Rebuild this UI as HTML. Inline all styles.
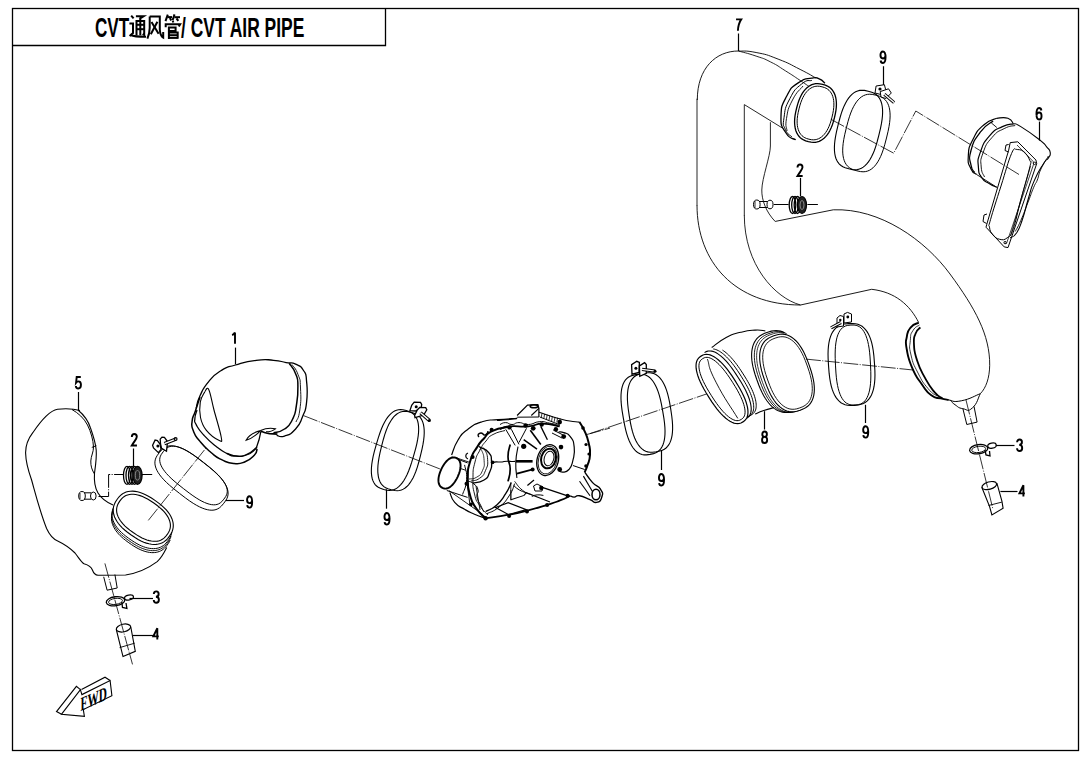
<!DOCTYPE html>
<html><head><meta charset="utf-8"><style>
html,body{margin:0;padding:0;background:#fff;}
svg{display:block;font-family:"Liberation Sans",sans-serif;}
</style></head><body>
<svg width="1090" height="760" viewBox="0 0 1090 760">
<rect width="1090" height="760" fill="#fff"/>
<rect x="12.5" y="8.5" width="1066" height="742" fill="none" stroke="#000" stroke-width="1.3"/>
<path d="M12.5,45.5 H385.5 V8.5" fill="none" stroke="#000" stroke-width="1.3"/>
<path transform="translate(74.90,376.10) scale(1,1.031)" d="M5.9,0.95 H1.8 L1.2,6.3 C1.8,5.5 2.6,5.1 3.5,5.1 C5.1,5.1 6.05,6.5 6.05,8.5 C6.05,10.8 5,12.05 3.4,12.05 C2,12.05 1,11 0.95,9.6" fill="none" stroke="#000" stroke-width="1.9" stroke-linecap="butt"/>
<line x1="78.5" y1="392" x2="78.5" y2="410.5" stroke="#000" stroke-width="1.2" />
<path transform="translate(130.80,433.00) scale(1,1.031)" d="M1,3.9 C1,1.8 2,0.95 3.5,0.95 C5,0.95 6,1.9 6,3.6 C6,5.6 4.3,7 1,12.05 H6.15" fill="none" stroke="#000" stroke-width="1.9" stroke-linecap="butt"/>
<line x1="133.5" y1="448.5" x2="133.5" y2="466.4" stroke="#000" stroke-width="1.2" />
<path transform="translate(246.10,495.20) scale(1,1.031)" d="M1.1,9.7 C1.3,11.2 2.2,12.05 3.4,12.05 C5.2,12.05 6.05,10 6.05,6.5 C6.05,2.7 5,0.95 3.4,0.95 C1.9,0.95 0.95,2.4 0.95,4.4 C0.95,6.4 1.9,7.7 3.4,7.7 C4.7,7.7 5.8,6.7 6.05,5" fill="none" stroke="#000" stroke-width="1.9" stroke-linecap="butt"/>
<line x1="225.6" y1="500.5" x2="244" y2="500.5" stroke="#000" stroke-width="1.2" />
<path transform="translate(230.80,331.40) scale(1,1.031)" d="M1.3,3.6 C2.6,3.1 3.6,2.2 4.1,0.95 M4.2,0.95 V12.05" fill="none" stroke="#000" stroke-width="1.9" stroke-linecap="butt"/>
<line x1="235.5" y1="347.6" x2="235.5" y2="364.4" stroke="#000" stroke-width="1.2" />
<path transform="translate(383.50,512.10) scale(1,1.031)" d="M1.1,9.7 C1.3,11.2 2.2,12.05 3.4,12.05 C5.2,12.05 6.05,10 6.05,6.5 C6.05,2.7 5,0.95 3.4,0.95 C1.9,0.95 0.95,2.4 0.95,4.4 C0.95,6.4 1.9,7.7 3.4,7.7 C4.7,7.7 5.8,6.7 6.05,5" fill="none" stroke="#000" stroke-width="1.9" stroke-linecap="butt"/>
<line x1="386.5" y1="489.4" x2="386.5" y2="508.7" stroke="#000" stroke-width="1.2" />
<path transform="translate(658.00,473.10) scale(1,1.031)" d="M1.1,9.7 C1.3,11.2 2.2,12.05 3.4,12.05 C5.2,12.05 6.05,10 6.05,6.5 C6.05,2.7 5,0.95 3.4,0.95 C1.9,0.95 0.95,2.4 0.95,4.4 C0.95,6.4 1.9,7.7 3.4,7.7 C4.7,7.7 5.8,6.7 6.05,5" fill="none" stroke="#000" stroke-width="1.9" stroke-linecap="butt"/>
<line x1="661.5" y1="450.4" x2="661.5" y2="470" stroke="#000" stroke-width="1.2" />
<path transform="translate(761.10,430.60) scale(1,1.031)" d="M3.5,6.1 C2,6.1 1.2,5 1.2,3.5 C1.2,1.9 2.2,0.95 3.5,0.95 C4.8,0.95 5.8,1.9 5.8,3.5 C5.8,5 5,6.1 3.5,6.1 C1.9,6.1 0.95,7.3 0.95,9 C0.95,10.9 2,12.05 3.5,12.05 C5,12.05 6.05,10.9 6.05,9 C6.05,7.3 5.1,6.1 3.5,6.1Z" fill="none" stroke="#000" stroke-width="1.9" stroke-linecap="butt"/>
<line x1="764.5" y1="411.2" x2="764.5" y2="429.5" stroke="#000" stroke-width="1.2" />
<path transform="translate(862.20,425.20) scale(1,1.031)" d="M1.1,9.7 C1.3,11.2 2.2,12.05 3.4,12.05 C5.2,12.05 6.05,10 6.05,6.5 C6.05,2.7 5,0.95 3.4,0.95 C1.9,0.95 0.95,2.4 0.95,4.4 C0.95,6.4 1.9,7.7 3.4,7.7 C4.7,7.7 5.8,6.7 6.05,5" fill="none" stroke="#000" stroke-width="1.9" stroke-linecap="butt"/>
<line x1="865.5" y1="404.8" x2="865.5" y2="423" stroke="#000" stroke-width="1.2" />
<path transform="translate(735.10,18.40) scale(1,1.031)" d="M0.95,0.95 H6.1 C4,4 3,7.5 2.8,12.05" fill="none" stroke="#000" stroke-width="1.9" stroke-linecap="butt"/>
<line x1="738.5" y1="33.5" x2="738.5" y2="51" stroke="#000" stroke-width="1.2" />
<path transform="translate(879.50,50.50) scale(1,1.031)" d="M1.1,9.7 C1.3,11.2 2.2,12.05 3.4,12.05 C5.2,12.05 6.05,10 6.05,6.5 C6.05,2.7 5,0.95 3.4,0.95 C1.9,0.95 0.95,2.4 0.95,4.4 C0.95,6.4 1.9,7.7 3.4,7.7 C4.7,7.7 5.8,6.7 6.05,5" fill="none" stroke="#000" stroke-width="1.9" stroke-linecap="butt"/>
<line x1="883.5" y1="66.25" x2="883.5" y2="85" stroke="#000" stroke-width="1.2" />
<path transform="translate(1035.50,107.10) scale(1,1.031)" d="M5.9,3.3 C5.7,1.8 4.8,0.95 3.6,0.95 C1.8,0.95 0.95,3 0.95,6.5 C0.95,10.3 2,12.05 3.6,12.05 C5.1,12.05 6.05,10.6 6.05,8.6 C6.05,6.6 5.1,5.3 3.6,5.3 C2.3,5.3 1.2,6.3 0.95,8" fill="none" stroke="#000" stroke-width="1.9" stroke-linecap="butt"/>
<line x1="1039.5" y1="121.6" x2="1039.5" y2="140.6" stroke="#000" stroke-width="1.2" />
<path transform="translate(796.50,163.50) scale(1,1.031)" d="M1,3.9 C1,1.8 2,0.95 3.5,0.95 C5,0.95 6,1.9 6,3.6 C6,5.6 4.3,7 1,12.05 H6.15" fill="none" stroke="#000" stroke-width="1.9" stroke-linecap="butt"/>
<line x1="800.5" y1="177.9" x2="800.5" y2="196.3" stroke="#000" stroke-width="1.2" />
<path transform="translate(1016.10,438.60) scale(1,1.031)" d="M1,3.6 C1,1.8 2.1,0.95 3.5,0.95 C4.9,0.95 5.85,1.9 5.85,3.4 C5.85,5 4.8,6.1 3.1,6.1 M3.1,6.1 C5,6.1 6.1,7.3 6.1,9.1 C6.1,11 5,12.05 3.5,12.05 C2,12.05 0.95,11 0.95,9.3" fill="none" stroke="#000" stroke-width="1.9" stroke-linecap="butt"/>
<line x1="995.8" y1="445.5" x2="1014.5" y2="445.5" stroke="#000" stroke-width="1.2" />
<path transform="translate(1018.50,484.20) scale(1,1.031)" d="M4.9,12.05 V0.95 L0.95,8.9 H6.4" fill="none" stroke="#000" stroke-width="1.9" stroke-linecap="butt"/>
<line x1="1000.4" y1="491.5" x2="1017.5" y2="491.5" stroke="#000" stroke-width="1.2" />
<path transform="translate(152.80,590.40) scale(1,1.031)" d="M1,3.6 C1,1.8 2.1,0.95 3.5,0.95 C4.9,0.95 5.85,1.9 5.85,3.4 C5.85,5 4.8,6.1 3.1,6.1 M3.1,6.1 C5,6.1 6.1,7.3 6.1,9.1 C6.1,11 5,12.05 3.5,12.05 C2,12.05 0.95,11 0.95,9.3" fill="none" stroke="#000" stroke-width="1.9" stroke-linecap="butt"/>
<line x1="129.5" y1="598.5" x2="153" y2="598.5" stroke="#000" stroke-width="1.2" />
<path transform="translate(152.40,627.20) scale(1,1.031)" d="M4.9,12.05 V0.95 L0.95,8.9 H6.4" fill="none" stroke="#000" stroke-width="1.9" stroke-linecap="butt"/>
<line x1="132.8" y1="635.5" x2="153" y2="635.5" stroke="#000" stroke-width="1.2" />
<text transform="translate(95,36.7) scale(0.6,1)" font-size="28.5" font-weight="bold">CVT</text>
<text transform="translate(181,36.7) scale(0.612,1)" font-size="28.5" font-weight="bold">/ CVT AIR PIPE</text>
<path d="M131.2,15.6 L133.6,18.4" fill="none" stroke="#000" stroke-width="2" stroke-linecap="butt" stroke-linejoin="miter"/>
<path d="M129.4,23.5 H133 V33 L129.6,36" fill="none" stroke="#000" stroke-width="2" stroke-linecap="butt" stroke-linejoin="miter"/>
<path d="M130.5,35 C133,36.2 136,36.8 146,36.8" fill="none" stroke="#000" stroke-width="2" stroke-linecap="butt" stroke-linejoin="miter"/>
<path d="M135.9,16.3 H143.6 L139.4,18.9" fill="none" stroke="#000" stroke-width="2" stroke-linecap="butt" stroke-linejoin="miter"/>
<path d="M136.5,35.5 V21 H144.2 V35 L142.6,34" fill="none" stroke="#000" stroke-width="2" stroke-linecap="butt" stroke-linejoin="miter"/>
<path d="M136.5,24.8 H144.2" fill="none" stroke="#000" stroke-width="2" stroke-linecap="butt" stroke-linejoin="miter"/>
<path d="M136.5,29.2 H144.2" fill="none" stroke="#000" stroke-width="2" stroke-linecap="butt" stroke-linejoin="miter"/>
<path d="M140.3,19 V35.3" fill="none" stroke="#000" stroke-width="2" stroke-linecap="butt" stroke-linejoin="miter"/>
<path d="M149.7,16.4 V28 C149.6,32 148.8,35.5 147.4,38.6" fill="none" stroke="#000" stroke-width="2" stroke-linecap="butt" stroke-linejoin="miter"/>
<path d="M149.7,16.4 H159.8 V29.5 C160,33.5 161.2,36.5 163.2,37.6 V32" fill="none" stroke="#000" stroke-width="2" stroke-linecap="butt" stroke-linejoin="miter"/>
<path d="M151.5,22 L158.6,33.8" fill="none" stroke="#000" stroke-width="2" stroke-linecap="butt" stroke-linejoin="miter"/>
<path d="M157.4,21.8 L150.8,34.2" fill="none" stroke="#000" stroke-width="2" stroke-linecap="butt" stroke-linejoin="miter"/>
<path d="M167.8,14.6 L165.5,21.2" fill="none" stroke="#000" stroke-width="2" stroke-linecap="butt" stroke-linejoin="miter"/>
<path d="M167.6,17.1 H172" fill="none" stroke="#000" stroke-width="2" stroke-linecap="butt" stroke-linejoin="miter"/>
<path d="M169.9,18 L171.2,20.5" fill="none" stroke="#000" stroke-width="2" stroke-linecap="butt" stroke-linejoin="miter"/>
<path d="M174.5,14.4 L172.6,20.3" fill="none" stroke="#000" stroke-width="2" stroke-linecap="butt" stroke-linejoin="miter"/>
<path d="M174.4,17.2 H180" fill="none" stroke="#000" stroke-width="2" stroke-linecap="butt" stroke-linejoin="miter"/>
<path d="M176.5,18.4 L178.3,20.9" fill="none" stroke="#000" stroke-width="2" stroke-linecap="butt" stroke-linejoin="miter"/>
<path d="M172.8,20.8 L173.3,22.5" fill="none" stroke="#000" stroke-width="2" stroke-linecap="butt" stroke-linejoin="miter"/>
<path d="M165.7,27.2 V24.2 H180.2 L178.8,26.6" fill="none" stroke="#000" stroke-width="2" stroke-linecap="butt" stroke-linejoin="miter"/>
<path d="M168.9,39 V27.4 H175.6 V30.9 H168.9" fill="none" stroke="#000" stroke-width="2" stroke-linecap="butt" stroke-linejoin="miter"/>
<path d="M168.9,32.5 H177.7 V38.8" fill="none" stroke="#000" stroke-width="2" stroke-linecap="butt" stroke-linejoin="miter"/>
<path d="M168.9,35.2 H177.7" fill="none" stroke="#000" stroke-width="2" stroke-linecap="butt" stroke-linejoin="miter"/>
<path d="M168.9,37.9 H177.7" fill="none" stroke="#000" stroke-width="2" stroke-linecap="butt" stroke-linejoin="miter"/>
<path d="M80,410.5 C74,408.8 64,408.6 57.5,409.2 C50,410.5 40,422 32.8,432.7 C28,439 25.5,446 25.6,453 C25.8,462 28,470 31.6,480 C35,492 40,512 46.6,528.5 C50,536 53,539 57.7,541 C64,544 70,548 75,553 C79,558 81,562 84,563.8 C88,565 91,566 92.4,570 C93.5,573 95,575 98,575.3 L125.6,575 C138,573 150,567 157.2,561.6 C161,558 164,553 166.7,547.4" fill="none" stroke="#000" stroke-width="1.1" />
<path d="M78,410 C84,415 88,420 90.5,428 C93,435 95.5,442 96.2,450 C96.8,458 95.5,466 94.5,473 C94,480 95,488 98,493 C101,498 106,502 113,505" fill="none" stroke="#000" stroke-width="1.1" />
<path d="M72,409.5 C78,413 84,418 87.5,425 C91,432 93.2,440 93.5,447 C93.6,452 91,456 90.8,461 C90.6,466 92,470 94.5,474" fill="none" stroke="#000" stroke-width="1.0" />
<line x1="91.8" y1="447.4" x2="96.3" y2="445.7" stroke="#000" stroke-width="1.0" />
<path d="M171.82,532.39 L171.43,534.06 L170.85,535.73 L170.05,537.43 L168.96,539.26 L167.34,541.56 L166.00,543.18 L164.68,544.49 L163.30,545.60 L161.86,546.52 L160.35,547.27 L158.76,547.86 L157.10,548.28 L155.36,548.54 L153.56,548.65 L151.69,548.59 L149.77,548.38 L147.78,548.01 L145.74,547.48 L143.64,546.78 L141.49,545.93 L139.27,544.90 L136.97,543.69 L134.56,542.26 L131.89,540.54 L128.37,538.08 L125.77,536.14 L123.58,534.35 L121.63,532.60 L119.88,530.87 L118.32,529.14 L116.93,527.40 L115.71,525.66 L114.67,523.93 L113.79,522.19 L113.08,520.45 L112.54,518.72 L112.17,517.00 L111.98,515.29 L111.97,513.60 L112.13,511.92 L112.48,510.25 L113.03,508.58 L113.79,506.89 L114.81,505.10 L116.39,502.80 L117.75,501.10 L119.07,499.73 L120.44,498.59" fill="none" stroke="#000" stroke-width="1.0"/>
<path d="M171.07,536.25 L170.50,537.85 L169.72,539.47 L168.69,541.21 L167.14,543.43 L165.85,545.01 L164.59,546.30 L163.29,547.38 L161.94,548.30 L160.51,549.06 L159.02,549.67 L157.46,550.13 L155.84,550.44 L154.15,550.61 L152.40,550.64 L150.59,550.52 L148.73,550.26 L146.82,549.85 L144.86,549.30 L142.85,548.60 L140.78,547.75 L138.65,546.74 L136.45,545.57 L134.14,544.19 L131.59,542.54 L128.21,540.18 L125.70,538.31 L123.57,536.59 L121.67,534.92 L119.97,533.27 L118.44,531.62 L117.06,529.97 L115.85,528.31 L114.78,526.65 L113.88,525.00 L113.12,523.34 L112.52,521.69 L112.08,520.04 L111.79,518.40 L111.66,516.78 L111.69,515.17 L111.89,513.57 L112.26,511.98 L112.81,510.39 L113.55,508.77 L114.54,507.06 L116.06,504.84 L117.36,503.20 L118.62,501.88" fill="none" stroke="#000" stroke-width="0.9"/>
<path d="M170.18,540.12 L169.41,541.68 L168.40,543.35 L166.90,545.47 L165.69,546.97 L164.49,548.21 L163.26,549.26 L161.97,550.16 L160.63,550.91 L159.23,551.52 L157.76,552.00 L156.24,552.35 L154.66,552.56 L153.02,552.65 L151.33,552.60 L149.58,552.42 L147.79,552.12 L145.96,551.68 L144.08,551.11 L142.15,550.41 L140.17,549.57 L138.14,548.58 L136.03,547.44 L133.82,546.12 L131.39,544.54 L128.16,542.28 L125.72,540.48 L123.66,538.84 L121.83,537.25 L120.17,535.67 L118.67,534.10 L117.32,532.53 L116.10,530.96 L115.03,529.38 L114.10,527.80 L113.31,526.23 L112.65,524.65 L112.14,523.08 L111.77,521.52 L111.54,519.97 L111.45,518.43 L111.52,516.90 L111.73,515.37 L112.09,513.86 L112.62,512.35 L113.33,510.81 L114.25,509.19 L115.68,507.09 L116.95,505.45" fill="none" stroke="#000" stroke-width="1.0"/>
<path d="M169.46,536.15 L167.62,538.56 L165.96,540.27 L164.22,541.63 L162.38,542.71 L160.42,543.52 L158.35,544.08 L156.16,544.38 L153.86,544.44 L151.47,544.24 L148.98,543.80 L146.41,543.10 L143.75,542.15 L140.99,540.93 L138.11,539.43 L135.04,537.58 L131.20,535.00 L127.47,532.28 L124.68,530.02 L122.29,527.83 L120.20,525.66 L118.40,523.48 L116.86,521.30 L115.59,519.12 L114.59,516.94 L113.86,514.76 L113.39,512.60 L113.21,510.46 L113.30,508.34 L113.68,506.24 L114.37,504.15 L115.40,502.00 L117.04,499.45 L118.88,497.04 L120.54,495.33 L122.28,493.97 L124.12,492.89 L126.08,492.08 L128.15,491.52 L130.34,491.22 L132.64,491.16 L135.03,491.36 L137.52,491.80 L140.09,492.50 L142.75,493.45 L145.51,494.67 L148.39,496.17 L151.46,498.02 L155.30,500.60 L159.03,503.32 L161.82,505.58 L164.21,507.77 L166.30,509.94 L168.10,512.12 L169.64,514.30 L170.91,516.48 L171.91,518.66 L172.64,520.84 L173.11,523.00 L173.29,525.14 L173.20,527.26 L172.82,529.36 L172.13,531.45 L171.10,533.60Z" fill="#fff" stroke="#000" stroke-width="1.1" />
<path d="M167.26,534.43 L165.67,536.50 L164.23,537.94 L162.72,539.09 L161.10,539.99 L159.38,540.66 L157.54,541.10 L155.60,541.31 L153.56,541.31 L151.43,541.08 L149.20,540.64 L146.90,539.97 L144.50,539.07 L142.02,537.95 L139.43,536.57 L136.65,534.89 L133.18,532.54 L129.79,530.08 L127.26,528.05 L125.07,526.08 L123.17,524.13 L121.51,522.19 L120.09,520.25 L118.91,518.31 L117.97,516.38 L117.27,514.47 L116.80,512.57 L116.59,510.70 L116.62,508.85 L116.92,507.03 L117.48,505.21 L118.35,503.36 L119.74,501.17 L121.33,499.10 L122.77,497.66 L124.28,496.51 L125.90,495.61 L127.62,494.94 L129.46,494.50 L131.40,494.29 L133.44,494.29 L135.57,494.52 L137.80,494.96 L140.10,495.63 L142.50,496.53 L144.98,497.65 L147.57,499.03 L150.35,500.71 L153.82,503.06 L157.21,505.52 L159.74,507.55 L161.93,509.52 L163.83,511.47 L165.49,513.41 L166.91,515.35 L168.09,517.29 L169.03,519.22 L169.73,521.13 L170.20,523.03 L170.41,524.90 L170.38,526.75 L170.08,528.57 L169.52,530.39 L168.65,532.24Z" fill="none" stroke="#000" stroke-width="1.1" />
<path d="M103.7,576.8 L107.1,590.2 L117.2,588 L114.9,574.5" fill="none" stroke="#000" stroke-width="1.0" />
<ellipse cx="82" cy="496" rx="3.3" ry="4.5" fill="#fff" stroke="#000" stroke-width="1"/>
<path d="M84,492.8 L91,492.8" fill="none" stroke="#000" stroke-width="1.0" />
<path d="M84,499.2 L91,499.2" fill="none" stroke="#000" stroke-width="1.0" />
<ellipse cx="93.3" cy="496" rx="2.8" ry="4" fill="#fff" stroke="#000" stroke-width="1"/>
<line x1="80" y1="493" x2="80" y2="499" stroke="#000" stroke-width="0.8" />
<path d="M98.5,496.5 L108.6,496.5 L108.6,474.5 L124,474.5" fill="none" stroke="#000" stroke-width="1.0" stroke-dasharray="14.9 1.45 1 1.45"/>
<line x1="142" y1="474.5" x2="152.2" y2="474.5" stroke="#000" stroke-width="1.0" />
<ellipse cx="127" cy="475.3" rx="3.5" ry="9" fill="none" stroke="#000" stroke-width="1.3"/>
<ellipse cx="129.5" cy="475.3" rx="3.5" ry="9" fill="none" stroke="#000" stroke-width="1.3"/>
<ellipse cx="132" cy="475.3" rx="3.5" ry="9" fill="none" stroke="#000" stroke-width="1.3"/>
<ellipse cx="134.5" cy="475.3" rx="3.5" ry="9" fill="none" stroke="#000" stroke-width="1.3"/>
<ellipse cx="137.5" cy="475.3" rx="4.6" ry="9" fill="#222" stroke="#000" stroke-width="1.2"/>
<ellipse cx="137.5" cy="475.3" rx="2.2" ry="4.8" fill="none" stroke="#888" stroke-width="1"/>
<path d="M223.81,503.24 L221.41,506.08 L219.63,507.68 L217.85,508.81 L215.99,509.59 L214.02,510.06 L211.93,510.22 L209.71,510.10 L207.35,509.70 L204.85,509.02 L202.21,508.06 L199.41,506.80 L196.42,505.23 L193.22,503.32 L189.71,501.01 L185.69,498.12 L179.49,493.37 L173.39,488.51 L169.61,485.30 L166.51,482.46 L163.89,479.81 L161.64,477.30 L159.75,474.88 L158.17,472.55 L156.90,470.29 L155.95,468.10 L155.29,465.97 L154.95,463.90 L154.92,461.88 L155.23,459.89 L155.90,457.89 L157.02,455.77 L159.19,452.76 L161.59,449.92 L163.37,448.32 L165.15,447.19 L167.01,446.41 L168.98,445.94 L171.07,445.78 L173.29,445.90 L175.65,446.30 L178.15,446.98 L180.79,447.94 L183.59,449.20 L186.58,450.77 L189.78,452.68 L193.29,454.99 L197.31,457.88 L203.51,462.63 L209.61,467.49 L213.39,470.70 L216.49,473.54 L219.11,476.19 L221.36,478.70 L223.25,481.12 L224.83,483.45 L226.10,485.71 L227.05,487.90 L227.71,490.03 L228.05,492.10 L228.08,494.12 L227.77,496.11 L227.10,498.11 L225.98,500.23Z" fill="none" stroke="#000" stroke-width="1.0" />
<path d="M223.84,499.20 L221.80,501.60 L220.26,502.92 L218.70,503.84 L217.06,504.45 L215.30,504.77 L213.42,504.82 L211.40,504.62 L209.25,504.16 L206.97,503.44 L204.53,502.47 L201.94,501.24 L199.18,499.72 L196.20,497.90 L192.92,495.70 L189.15,492.97 L183.34,488.50 L177.60,483.95 L174.04,480.95 L171.12,478.30 L168.62,475.85 L166.48,473.53 L164.66,471.32 L163.13,469.19 L161.88,467.15 L160.92,465.17 L160.23,463.27 L159.83,461.43 L159.71,459.65 L159.90,457.90 L160.42,456.17 L161.33,454.35 L163.16,451.80 L165.20,449.40 L166.74,448.08 L168.30,447.16 L169.94,446.55 L171.70,446.23 L173.58,446.18 L175.60,446.38 L177.75,446.84 L180.03,447.56 L182.47,448.53 L185.06,449.76 L187.82,451.28 L190.80,453.10 L194.08,455.30 L197.85,458.03 L203.66,462.50 L209.40,467.05 L212.96,470.05 L215.88,472.70 L218.38,475.15 L220.52,477.47 L222.34,479.68 L223.87,481.81 L225.12,483.85 L226.08,485.83 L226.77,487.73 L227.17,489.57 L227.29,491.35 L227.10,493.10 L226.58,494.83 L225.67,496.65Z" fill="none" stroke="#000" stroke-width="1.0" />
<path d="M152.6,445.2 L155.1,440.1 L157.4,440.6 L160,444 L161.1,449.4 L158.4,452.6 L153.5,448Z" fill="#fff" stroke="#000" stroke-width="1.3" />
<circle cx="157.9" cy="446.1" r="1.5" fill="#000"/>
<path d="M160.2,439.2 L162,437.1 L164.4,437.4 L167.5,441.5 L166.5,451.2 L161.6,448.4 L160.5,444Z" fill="#fff" stroke="#000" stroke-width="1.3" />
<line x1="164.4" y1="443.6" x2="175.8" y2="439.2" stroke="#000" stroke-width="3.4" />
<line x1="164.4" y1="443.6" x2="175.8" y2="439.2" stroke="#fff" stroke-width="1.4" />
<circle cx="175.6" cy="439.1" r="1.4" fill="none" stroke="#000" stroke-width="1.2"/>
<path d="M148.3,520.4 L206.3,447.6" fill="none" stroke="#000" stroke-width="0.8" stroke-dasharray="14.9 1.45 1 1.45"/>
<path d="M104.9,563.4 L132.5,664.4" fill="none" stroke="#000" stroke-width="0.8" stroke-dasharray="14.9 1.45 1 1.45"/>
<ellipse cx="115.5" cy="601.2" rx="9.3" ry="4.5" transform="rotate(-8 115.5 601.2)" fill="none" stroke="#000" stroke-width="1.3"/>
<ellipse cx="115.5" cy="601.4" rx="7" ry="3" transform="rotate(-8 115.5 601.4)" fill="none" stroke="#000" stroke-width="0.9"/>
<ellipse cx="129" cy="597.5" rx="4.5" ry="2.5" transform="rotate(-10 129 597.5)" fill="none" stroke="#000" stroke-width="1.2"/>
<path d="M121.8,602 L122.5,607.5 L126.9,608.5 L126,603" fill="none" stroke="#000" stroke-width="1.3" />
<ellipse cx="123.5" cy="628" rx="7.3" ry="3.8" transform="rotate(-12 123.5 628)" fill="none" stroke="#000" stroke-width="1.2"/>
<path d="M116.3,629.5 L123,656.6 L135.3,651.3 L130.8,627" fill="none" stroke="#000" stroke-width="1.1" />
<line x1="119.6" y1="647.6" x2="134.7" y2="643.2" stroke="#000" stroke-width="0.9" />
<path d="M61.6,714.2 L80.4,689.6 L81.9,694.6 L110.1,680.5 L111.9,695.7 L83.3,709.5 L84.4,716.3Z" fill="none" stroke="#000" stroke-width="1.1" />
<path d="M61.6,714.2 L56.5,711.6 L76.4,686.3 L80.4,689.6" fill="none" stroke="#000" stroke-width="1.1" />
<path d="M81.5,689.6 L105,677.2 L110.1,680.5" fill="none" stroke="#000" stroke-width="1.1" />
<text transform="translate(80.5,711) skewY(-24) scale(0.58,1)" font-family="Liberation Serif" font-size="19.5" font-weight="bold">FWD</text>
<path d="M196.1,408.4 C197.3,404.6 196.2,403.8 200.0,395.8 C203.8,387.8 202.3,389.2 208.7,381.6 C215.1,374.0 213.3,375.5 221.3,370.5 C229.3,365.5 225.1,368.1 235.5,365.0 C245.9,361.9 244.7,361.7 256.1,360.3 C267.5,358.9 264.5,359.6 273.5,360.3 C282.5,361.0 279.5,361.4 286.1,362.6 C292.7,363.8 290.4,361.8 295.6,364.2 C300.8,366.6 300.2,365.3 303.5,370.5 C306.8,375.7 305.7,372.1 306.6,381.6 C307.5,391.1 307.8,391.7 306.6,402.1 C305.4,412.5 306.0,408.2 302.7,416.3 C299.4,424.4 301.1,423.1 295.6,429.0 C290.1,434.9 290.2,434.2 284.5,436.1 C278.8,438.0 279.0,435.5 276.6,435.3" fill="none" stroke="#000" stroke-width="1.3" />
<path d="M289.2,363.4 C291.1,366.5 293.0,366.8 295.6,373.7 C298.2,380.6 297.7,376.8 297.9,386.3 C298.1,395.8 298.0,395.3 296.4,405.3 C294.8,415.3 296.0,412.4 292.4,419.5 C288.8,426.6 290.2,425.0 284.5,429.0 C278.8,433.0 276.8,431.7 273.5,432.9" fill="none" stroke="#000" stroke-width="1.5" />
<path d="M292.0,364.5 C293.8,367.5 295.4,367.4 298.0,374.5 C300.6,381.6 300.0,377.4 300.5,388.0 C301.0,398.6 301.2,399.8 299.8,410.0 C298.4,420.2 297.1,418.4 296.0,422.0" fill="none" stroke="#000" stroke-width="0.9" />
<path d="M246.1,440.3 C248,436 253,432.5 260.6,430.6 C257,434.5 251,438.8 246.1,440.3Z M260.6,430.6 C265,428.5 271,427.8 275.4,428.8 C273,430.8 270,431.8 266,431.8" fill="none" stroke="#000" stroke-width="1.1" />
<path d="M260.9,431.4 C264,432 266,433.3 269.5,433.6 L277.4,434.1" fill="none" stroke="#000" stroke-width="1.6" />
<path d="M260.9,431.4 C260,437 259,441 256.3,447.9 C254,451 252,452.5 249.7,453.8 C246,455.5 243,456.4 239.9,456.4 C236,456.4 232,455.8 226.7,453.4" fill="none" stroke="#000" stroke-width="1.25" />
<path d="M200.0,397.0 C198.6,401.2 197.8,403.7 195.4,411.0 C193.0,418.3 192.7,415.1 192.1,421.2 C191.5,427.3 191.1,425.2 193.5,431.3 C195.9,437.4 194.8,435.0 200.0,441.4 C205.2,447.8 204.4,446.9 211.0,452.5 C217.6,458.1 215.2,456.6 222.1,459.9 C229.0,463.2 227.1,463.0 234.0,463.5 C240.9,464.0 239.0,464.2 245.1,461.7 C251.2,459.2 250.7,459.1 254.3,455.2 C257.9,451.3 256.3,450.7 257.1,448.8" fill="none" stroke="#000" stroke-width="1.5" />
<path d="M197.0,410.0 C196.4,412.5 195.1,413.9 194.9,418.4 C194.7,422.9 193.7,419.9 196.3,424.9 C198.9,429.9 197.9,428.7 203.7,435.0 C209.5,441.3 208.7,440.5 215.6,446.0 C222.5,451.5 220.6,450.3 226.7,453.4 C232.8,456.5 229.8,455.9 235.9,456.2 C242.0,456.5 240.5,457.1 246.9,454.3 C253.3,451.5 254.0,449.2 257.1,447.0" fill="none" stroke="#000" stroke-width="1.25" />
<path d="M204.7,391.9 C205.5,391.4 206.8,385.9 208.7,389.5 C210.6,393.1 211.5,400.6 214.0,410.0 C216.5,419.4 220.0,430.4 221.1,436.5 C222.2,442.6 222.2,441.7 219.3,440.5 C216.4,439.3 210.2,435.0 206.4,430.4 C202.6,425.8 201.7,423.2 200.5,417.5 C199.3,411.8 199.5,407.1 200.3,402.0 C201.1,396.9 203.8,393.9 204.7,391.9" fill="none" stroke="#000" stroke-width="1.1" />
<path d="M303.5,415.6 L450,472.9" fill="none" stroke="#000" stroke-width="0.8" stroke-dasharray="14.9 1.45 1 1.45"/>
<path d="M406.30,410.59 L409.62,411.69 L411.73,412.75 L413.44,414.00 L414.86,415.47 L416.04,417.17 L416.99,419.10 L417.72,421.27 L418.24,423.67 L418.56,426.31 L418.66,429.19 L418.55,432.32 L418.22,435.72 L417.66,439.44 L416.85,443.55 L415.70,448.30 L413.74,455.37 L411.65,462.41 L410.11,467.04 L408.62,470.97 L407.13,474.42 L405.60,477.48 L404.04,480.19 L402.42,482.58 L400.76,484.65 L399.04,486.41 L397.27,487.85 L395.44,488.99 L393.54,489.81 L391.56,490.30 L389.45,490.45 L387.09,490.23 L383.70,489.41 L380.38,488.31 L378.27,487.25 L376.56,486.00 L375.14,484.53 L373.96,482.83 L373.01,480.90 L372.28,478.73 L371.76,476.33 L371.44,473.69 L371.34,470.81 L371.45,467.68 L371.78,464.28 L372.34,460.56 L373.15,456.45 L374.30,451.70 L376.26,444.63 L378.35,437.59 L379.89,432.96 L381.38,429.03 L382.87,425.58 L384.40,422.52 L385.96,419.81 L387.58,417.42 L389.24,415.35 L390.96,413.59 L392.73,412.15 L394.56,411.01 L396.46,410.19 L398.44,409.70 L400.55,409.55 L402.91,409.77Z" fill="none" stroke="#000" stroke-width="1.1" />
<path d="M410.68,412.19 L414.12,413.19 L416.32,414.18 L418.13,415.37 L419.65,416.77 L420.93,418.41 L422.00,420.28 L422.85,422.38 L423.50,424.72 L423.94,427.29 L424.19,430.11 L424.22,433.17 L424.05,436.51 L423.65,440.16 L423.01,444.20 L422.07,448.87 L420.41,455.84 L418.60,462.77 L417.25,467.34 L415.91,471.21 L414.55,474.62 L413.14,477.64 L411.67,480.33 L410.13,482.70 L408.53,484.77 L406.86,486.53 L405.12,487.98 L403.30,489.13 L401.40,489.98 L399.40,490.50 L397.24,490.70 L394.83,490.54 L391.32,489.81 L387.88,488.81 L385.68,487.82 L383.87,486.63 L382.35,485.23 L381.07,483.59 L380.00,481.72 L379.15,479.62 L378.50,477.28 L378.06,474.71 L377.81,471.89 L377.78,468.83 L377.95,465.49 L378.35,461.84 L378.99,457.80 L379.93,453.13 L381.59,446.16 L383.40,439.23 L384.75,434.66 L386.09,430.79 L387.45,427.38 L388.86,424.36 L390.33,421.67 L391.87,419.30 L393.47,417.23 L395.14,415.47 L396.88,414.02 L398.70,412.87 L400.60,412.02 L402.60,411.50 L404.76,411.30 L407.17,411.46Z" fill="none" stroke="#000" stroke-width="1.1" />
<path d="M411.8,405.1 L414.2,402.1 L420.5,402.3 L421.7,404.3 L421.3,407.1 L415.8,411 L409.9,410.6Z" fill="#fff" stroke="#000" stroke-width="1.3" />
<circle cx="416.2" cy="406.8" r="1.5" fill="#000"/>
<path d="M414.6,415.4 L417.4,409.8 L419.7,407.5 L425.7,407.7 L426.8,409.8 L423.7,415 L415,417.7Z" fill="#fff" stroke="#000" stroke-width="1.3" />
<line x1="420.5" y1="412.8" x2="429.6" y2="420.6" stroke="#000" stroke-width="3.4" />
<line x1="420.5" y1="412.8" x2="429.6" y2="420.6" stroke="#fff" stroke-width="1.4" />
<circle cx="429.4" cy="420.6" r="1.5" fill="#000"/>
<path d="M650.03,454.38 L646.48,454.86 L644.06,454.85 L641.93,454.49 L639.96,453.82 L638.12,452.83 L636.39,451.54 L634.75,449.94 L633.20,448.04 L631.74,445.84 L630.37,443.34 L629.08,440.51 L627.88,437.35 L626.75,433.82 L625.68,429.81 L624.63,425.10 L623.30,417.97 L622.12,410.82 L621.49,406.04 L621.12,401.91 L620.97,398.20 L621.03,394.82 L621.27,391.72 L621.70,388.90 L622.32,386.33 L623.13,384.02 L624.12,381.96 L625.31,380.15 L626.70,378.59 L628.31,377.28 L630.20,376.22 L632.47,375.38 L635.97,374.62 L639.52,374.14 L641.94,374.15 L644.07,374.51 L646.04,375.18 L647.88,376.17 L649.61,377.46 L651.25,379.06 L652.80,380.96 L654.26,383.16 L655.63,385.66 L656.92,388.49 L658.12,391.65 L659.25,395.18 L660.32,399.19 L661.37,403.90 L662.70,411.03 L663.88,418.18 L664.51,422.96 L664.88,427.09 L665.03,430.80 L664.97,434.18 L664.73,437.28 L664.30,440.10 L663.68,442.67 L662.87,444.98 L661.88,447.04 L660.69,448.85 L659.30,450.41 L657.69,451.72 L655.80,452.78 L653.53,453.62Z" fill="none" stroke="#000" stroke-width="1.1" />
<path d="M656.23,451.81 L652.49,452.26 L649.96,452.23 L647.73,451.86 L645.69,451.18 L643.79,450.20 L642.01,448.91 L640.34,447.33 L638.77,445.45 L637.30,443.28 L635.94,440.80 L634.67,438.01 L633.50,434.90 L632.41,431.40 L631.41,427.45 L630.45,422.81 L629.26,415.79 L628.22,408.74 L627.70,404.02 L627.43,399.95 L627.38,396.30 L627.54,392.97 L627.88,389.93 L628.42,387.15 L629.14,384.63 L630.05,382.36 L631.15,380.34 L632.44,378.57 L633.95,377.04 L635.68,375.77 L637.68,374.73 L640.08,373.92 L643.77,373.19 L647.51,372.74 L650.04,372.77 L652.27,373.14 L654.31,373.82 L656.21,374.80 L657.99,376.09 L659.66,377.67 L661.23,379.55 L662.70,381.72 L664.06,384.20 L665.33,386.99 L666.50,390.10 L667.59,393.60 L668.59,397.55 L669.55,402.19 L670.74,409.21 L671.78,416.26 L672.30,420.98 L672.57,425.05 L672.62,428.70 L672.46,432.03 L672.12,435.07 L671.58,437.85 L670.86,440.37 L669.95,442.64 L668.85,444.66 L667.56,446.43 L666.05,447.96 L664.32,449.23 L662.32,450.27 L659.92,451.08Z" fill="none" stroke="#000" stroke-width="1.1" />
<path d="M632,374.1 L631.6,364.6 L636.8,361.3 L639.4,362.4 L639,372.4Z" fill="#fff" stroke="#000" stroke-width="1.3" />
<circle cx="635.9" cy="368.3" r="1.5" fill="#000"/>
<path d="M639.8,376.3 L639.4,365.9 L644.6,362.6 L646.3,364.6 L646.3,373.3Z" fill="#fff" stroke="#000" stroke-width="1.3" />
<line x1="642" y1="369.4" x2="655.2" y2="371.2" stroke="#000" stroke-width="3.2" />
<line x1="642" y1="369.4" x2="655.2" y2="371.2" stroke="#fff" stroke-width="1.3" />
<circle cx="655" cy="371.3" r="1.5" fill="#000"/>
<path d="M590,433.6 L726.2,387.3" fill="none" stroke="#000" stroke-width="0.8" stroke-dasharray="14.9 1.45 1 1.45"/>
<line x1="451.8" y1="457" x2="467.6" y2="462.9" stroke="#000" stroke-width="1.0" />
<line x1="446.8" y1="490.5" x2="467.6" y2="497.4" stroke="#000" stroke-width="1.0" />
<path d="M464.6,464.9 C465.2,469.3 467.2,470.8 466.6,479.7 C466.0,488.6 463.8,490.1 462.6,494.5" fill="none" stroke="#000" stroke-width="1.0" />
<path d="M456.47,458.05 L457.43,458.57 L458.20,459.17 L458.85,459.87 L459.40,460.67 L459.84,461.58 L460.18,462.58 L460.41,463.68 L460.54,464.86 L460.57,466.12 L460.48,467.45 L460.30,468.84 L460.00,470.29 L459.60,471.80 L459.09,473.35 L458.47,474.98 L457.66,476.80 L456.78,478.60 L455.94,480.12 L455.07,481.51 L454.18,482.78 L453.26,483.94 L452.31,484.98 L451.34,485.90 L450.36,486.69 L449.38,487.35 L448.38,487.87 L447.40,488.26 L446.42,488.50 L445.45,488.60 L444.49,488.55 L443.54,488.35 L442.53,487.95 L441.57,487.43 L440.80,486.83 L440.15,486.13 L439.60,485.33 L439.16,484.42 L438.82,483.42 L438.59,482.32 L438.46,481.14 L438.43,479.88 L438.52,478.55 L438.70,477.16 L439.00,475.71 L439.40,474.20 L439.91,472.65 L440.53,471.02 L441.34,469.20 L442.22,467.40 L443.06,465.88 L443.93,464.49 L444.82,463.22 L445.74,462.06 L446.69,461.02 L447.66,460.10 L448.64,459.31 L449.62,458.65 L450.62,458.13 L451.60,457.74 L452.58,457.50 L453.55,457.40 L454.51,457.45 L455.46,457.65Z" fill="#fff" stroke="#000" stroke-width="1.9" />
<path d="M451.6,455.0 C453.5,450.6 453.2,447.9 457.9,440.3 C462.6,432.7 460.1,435.2 467.4,429.7 C474.7,424.1 473.0,424.8 482.1,421.8 C491.2,418.8 487.4,420.7 497.9,419.7 C508.4,418.7 511.3,418.8 517.1,418.4" fill="none" stroke="#000" stroke-width="1.2" />
<path d="M449.8,492.5 C451.3,495.5 450.3,497.4 454.7,502.4 C459.1,507.4 458.7,505.8 464.6,509.3 C470.5,512.8 468.2,511.5 474.5,514.2 C480.8,516.9 482.3,517.1 485.6,518.3" fill="none" stroke="#000" stroke-width="1.2" />
<line x1="448.8" y1="490.5" x2="482.4" y2="514.2" stroke="#000" stroke-width="0.9" />
<path d="M468,453 C465,454 465,458 468,459" fill="none" stroke="#000" stroke-width="1.2"/>
<path d="M517.1,415.5 L527.5,405.1 L537.9,404.6 L538.9,408.4 L538.9,417" fill="none" stroke="#000" stroke-width="1.2" />
<line x1="538.9" y1="408.4" x2="531.3" y2="415.5" stroke="#000" stroke-width="1.1" />
<ellipse cx="534" cy="406.2" rx="3.8" ry="1.5" fill="none" stroke="#000" stroke-width="1.6"/>
<path d="M497.0,420.5 C500.0,420.3 501.0,420.4 507.0,419.8 C513.0,419.2 514.1,418.8 517.1,418.4" fill="none" stroke="#000" stroke-width="1.1" />
<line x1="517.1" y1="417.2" x2="538.9" y2="417" stroke="#000" stroke-width="1.0" />
<path d="M538.9,412.2 C545.9,414.4 550.2,416.5 562.4,419.5 C574.6,422.5 574.4,421.3 579.5,422.1" fill="none" stroke="#000" stroke-width="1.1" />
<path d="M539.8,417.0 C545.8,419.3 553.7,422.4 559.7,424.7" fill="none" stroke="#000" stroke-width="1.0" />
<line x1="542.0" y1="413.18" x2="541.2" y2="417.97999999999996" stroke="#000" stroke-width="0.8" />
<line x1="544.6" y1="413.934" x2="543.8000000000001" y2="418.734" stroke="#000" stroke-width="0.8" />
<line x1="547.2" y1="414.68800000000005" x2="546.4000000000001" y2="419.488" stroke="#000" stroke-width="0.8" />
<line x1="549.8" y1="415.442" x2="549.0" y2="420.24199999999996" stroke="#000" stroke-width="0.8" />
<line x1="552.4" y1="416.196" x2="551.6" y2="420.996" stroke="#000" stroke-width="0.8" />
<line x1="555.0" y1="416.95000000000005" x2="554.2" y2="421.75" stroke="#000" stroke-width="0.8" />
<line x1="557.6" y1="417.704" x2="556.8000000000001" y2="422.50399999999996" stroke="#000" stroke-width="0.8" />
<line x1="560.2" y1="418.458" x2="559.4000000000001" y2="423.258" stroke="#000" stroke-width="0.8" />
<path d="M500.0,424.5 C501.7,423.9 502.1,422.6 505.7,422.6 C509.3,422.6 508.0,424.5 512.0,424.5 C516.0,424.5 514.1,422.6 519.0,422.6 C523.9,422.6 522.2,424.8 528.4,424.5 C534.6,424.2 533.5,422.1 539.8,421.7 C546.1,421.3 543.3,422.0 549.3,423.1 C555.3,424.2 556.6,424.8 559.7,425.5" fill="none" stroke="#000" stroke-width="1.0" />
<path d="M500.0,429.3 C502.9,428.4 501.0,427.3 509.5,426.4 C518.0,425.5 518.4,427.2 528.4,426.4 C538.4,425.6 533.3,423.6 542.7,423.6 C552.1,423.6 554.6,425.6 559.7,426.4" fill="none" stroke="#000" stroke-width="1.7" />
<path d="M509.5,426.6 C504.4,427.9 500.2,427.3 492.6,430.8 C485.0,434.3 488.9,433.2 484.2,438.2 C479.5,443.2 480.9,441.0 476.8,447.6 C472.7,454.2 473.2,451.2 470.5,460.3 C467.8,469.4 467.9,467.6 467.8,478.0 C467.7,488.4 467.5,486.0 470.0,495.0 C472.5,504.0 471.3,501.0 476.0,508.0 C480.7,515.0 482.7,515.2 485.6,518.3" fill="none" stroke="#000" stroke-width="2.0" />
<path d="M505.0,430.5 C501.4,431.7 498.7,431.4 493.0,434.5 C487.3,437.6 489.9,436.4 486.0,441.0 C482.1,445.6 483.3,443.7 480.0,450.0 C476.7,456.3 477.1,453.6 475.0,462.0 C472.9,470.4 473.1,468.4 473.0,478.0 C472.9,487.6 472.4,485.6 474.5,494.0 C476.6,502.4 475.9,499.7 480.0,506.0 C484.1,512.3 485.6,512.3 488.0,515.0" fill="none" stroke="#000" stroke-width="0.9" />
<path d="M479,437 C476,434 481,432 483,434 C485,437 488,433 488,431" fill="none" stroke="#000" stroke-width="1.4"/>
<path d="M479.0,446.8 C479.5,447.0 477.8,445.9 480.7,447.6 C483.6,449.3 485.4,448.4 488.6,452.5 C491.8,456.6 491.2,455.5 491.5,461.4 C491.8,467.3 492.0,466.7 489.6,472.3 C487.2,477.9 488.6,477.0 483.6,480.2 C478.6,483.4 476.0,482.2 472.8,483.1" fill="none" stroke="#000" stroke-width="1.3" />
<path d="M482.0,448.5 C482.8,448.8 482.9,446.3 484.6,449.6 C486.3,452.9 487.3,453.2 487.6,459.4 C487.9,465.6 488.0,464.7 485.6,470.3 C483.2,475.9 484.1,475.0 479.7,478.2 C475.3,481.4 473.5,480.2 470.8,481.1" fill="none" stroke="#000" stroke-width="0.9" />
<path d="M479.5,449.5 C480.2,449.8 480.3,447.2 481.7,450.5 C483.1,453.8 483.8,454.5 484.1,460.4 C484.4,466.3 484.8,465.3 482.6,470.3 C480.4,475.3 480.8,474.6 476.7,477.2 C472.6,479.8 471.3,478.5 469.0,479.0" fill="none" stroke="#000" stroke-width="0.8" />
<line x1="455" y1="457.4" x2="469.8" y2="462.4" stroke="#000" stroke-width="0.9" />
<line x1="459.9" y1="468.3" x2="465.9" y2="470.3" stroke="#000" stroke-width="0.9" />
<path d="M492.5,462.4 C497,461 500,463 504,461.5 C508,460.5 511,462 515,461.4" fill="none" stroke="#000" stroke-width="1.1" />
<line x1="467" y1="483" x2="470" y2="505" stroke="#000" stroke-width="0.9" />
<line x1="476" y1="486" x2="480" y2="510" stroke="#000" stroke-width="0.9" />
<path d="M468.0,481.0 C469.8,481.9 471.0,481.3 474.0,484.0 C477.0,486.7 477.1,486.1 478.0,490.0 C478.9,493.9 476.1,492.2 477.0,497.0 C477.9,501.8 478.9,501.5 481.0,506.0 C483.1,510.5 483.1,510.2 484.0,512.0" fill="none" stroke="#000" stroke-width="1.0" />
<line x1="505.7" y1="429.3" x2="515.2" y2="445.4" stroke="#000" stroke-width="1.0" />
<line x1="511.4" y1="429.3" x2="519" y2="444.4" stroke="#000" stroke-width="1.0" />
<line x1="526.5" y1="428.3" x2="519" y2="442.5" stroke="#000" stroke-width="1.0" />
<path d="M510.2,444.5 C509.5,448.2 508.0,449.4 508.0,456.8 C508.0,464.2 510.2,461.7 510.2,469.1 C510.2,476.5 508.7,477.7 508.0,481.4" fill="none" stroke="#000" stroke-width="1.7" />
<path d="M518.0,446.7 C517.3,451.4 516.1,453.0 515.8,462.4 C515.5,471.8 516.6,473.3 516.9,478.0" fill="none" stroke="#000" stroke-width="1.1" />
<path d="M511.3,482.5 C509.6,485.9 510.1,487.0 505.7,493.7 C501.3,500.4 502.8,499.5 496.8,504.9 C490.8,510.3 489.0,509.6 485.6,511.6" fill="none" stroke="#000" stroke-width="1.3" />
<path d="M514.7,483.6 C513.0,487.3 513.8,488.8 509.1,495.9 C504.4,502.9 505.7,501.7 499.0,507.1 C492.3,512.5 490.4,511.8 486.7,513.8" fill="none" stroke="#000" stroke-width="1.0" />
<path d="M514.7,481.4 C517.0,484.1 517.5,486.3 522.5,490.3 C527.5,494.3 528.8,493.4 531.5,494.8" fill="none" stroke="#000" stroke-width="1.0" />
<line x1="510.8" y1="482.5" x2="510.8" y2="500.4" stroke="#000" stroke-width="0.8" />
<path d="M485.6,518.3 C492.5,517.2 496.5,517.0 508.7,514.7 C520.9,512.5 514.7,513.8 526.3,510.8 C537.9,507.8 537.1,507.9 547.2,504.8 C557.3,501.7 553.1,503.1 560.0,500.4 C566.9,497.7 567.2,497.2 570.3,495.8" fill="none" stroke="#000" stroke-width="1.8" />
<path d="M495.5,507.5 L508.2,502.6 L526.3,509.7 L508.7,514.7Z" fill="none" stroke="#000" stroke-width="1.2" />
<path d="M510.9,499.8 L524.1,495.4 L526.3,492.7 L550,502" fill="none" stroke="#000" stroke-width="1.1" />
<line x1="510.9" y1="489.9" x2="510.9" y2="499.8" stroke="#000" stroke-width="0.8" />
<path d="M513.7,485.5 C517,489 521,491.5 526.3,492.7" fill="none" stroke="#000" stroke-width="1.0" />
<path d="M531.8,496.5 C535,494.5 539,494.5 543.4,495.4" fill="none" stroke="#000" stroke-width="1.0" />
<path d="M527.4,485.5 L534,480" fill="none" stroke="#000" stroke-width="1.2" />
<path d="M533.5,486 L537,484 L543,487 L542,491 L535,491Z" fill="none" stroke="#000" stroke-width="1.0" />
<line x1="540" y1="486.6" x2="567.6" y2="495.8" stroke="#000" stroke-width="1.3" />
<line x1="515.8" y1="461.3" x2="532.6" y2="461.3" stroke="#000" stroke-width="2.6" />
<line x1="516.9" y1="473.6" x2="533.7" y2="469.1" stroke="#000" stroke-width="1.8" />
<line x1="530.3" y1="430.2" x2="540.8" y2="444.4" stroke="#000" stroke-width="1.6" />
<line x1="523.7" y1="439.7" x2="537" y2="449.2" stroke="#000" stroke-width="1.5" />
<line x1="540.8" y1="426.4" x2="547.4" y2="439.7" stroke="#000" stroke-width="1.3" />
<line x1="553.2" y1="430" x2="563.7" y2="435.3" stroke="#000" stroke-width="1.0" />
<line x1="552" y1="433" x2="562" y2="438" stroke="#000" stroke-width="1.0" />
<ellipse cx="547.7" cy="460.1" rx="10.6" ry="15.7" transform="rotate(15 547.7 460.1)" fill="none" stroke="#000" stroke-width="1.3"/>
<ellipse cx="547.7" cy="460.1" rx="9.2" ry="14.2" transform="rotate(15 547.7 460.1)" fill="none" stroke="#000" stroke-width="0.8"/>
<ellipse cx="548.5" cy="458.5" rx="7.3" ry="10" transform="rotate(15 548.5 458.5)" fill="none" stroke="#000" stroke-width="2"/>
<ellipse cx="549" cy="458.5" rx="4.8" ry="7.5" transform="rotate(15 549 458.5)" fill="none" stroke="#000" stroke-width="1"/>
<path d="M558.4,432.0 C560.0,432.2 560.1,431.2 563.7,432.6 C567.3,434.0 567.1,432.2 570.3,436.6 C573.4,441.0 573.4,440.0 574.2,447.1 C575.0,454.2 574.5,453.6 572.9,460.3 C571.3,467.0 572.0,466.0 568.9,469.5 C565.8,473.0 565.5,472.1 562.4,472.1 C559.2,472.1 559.6,470.3 558.4,469.5" fill="none" stroke="#000" stroke-width="1.2" />
<line x1="572.9" y1="465.5" x2="584.7" y2="469.5" stroke="#000" stroke-width="1.0" />
<path d="M579.5,422.1 C581.1,424.9 581.9,425.0 584.7,431.3 C587.5,437.6 587.1,436.1 588.7,443.2 C590.3,450.3 590.4,448.3 590.0,455.0 C589.6,461.7 589.0,460.4 587.4,465.5 C585.8,470.6 585.5,470.1 584.7,472.1" fill="none" stroke="#000" stroke-width="2.0" />
<path d="M584.7,472.1 C587.1,475.2 587.9,477.5 592.6,482.6 C597.3,487.7 597.7,484.8 600.5,489.2 C603.3,493.6 603.0,493.1 601.8,497.1 C600.6,501.1 600.1,501.6 596.6,502.4 C593.1,503.2 595.1,501.7 590.0,499.7 C584.9,497.7 584.2,496.6 579.5,495.8 C574.8,495.0 577.0,497.1 574.2,497.1 C571.4,497.1 571.5,496.2 570.3,495.8" fill="none" stroke="#000" stroke-width="1.4" />
<line x1="583.4" y1="476.1" x2="592.6" y2="491.8" stroke="#000" stroke-width="1.1" />
<line x1="579.5" y1="481.3" x2="590" y2="495.8" stroke="#000" stroke-width="1.1" />
<ellipse cx="596" cy="494.5" rx="4" ry="5.3" fill="none" stroke="#000" stroke-width="1.5"/>
<circle cx="509.5" cy="427.4" r="2.2" fill="#000"/>
<circle cx="525.6" cy="425.5" r="2.2" fill="#000"/>
<circle cx="533.2" cy="428.3" r="2.4" fill="#000"/>
<circle cx="541.7" cy="424.5" r="2.2" fill="#000"/>
<circle cx="555.9" cy="429.3" r="2.2" fill="#000"/>
<circle cx="491.6" cy="429.7" r="2" fill="#000"/>
<circle cx="523.7" cy="446.3" r="2.6" fill="#000"/>
<circle cx="472.6" cy="457.1" r="2" fill="#000"/>
<circle cx="492.6" cy="462.4" r="1.8" fill="#000"/>
<circle cx="559.7" cy="422.1" r="2.3" fill="#000"/>
<circle cx="563.7" cy="436.6" r="2.4" fill="#000"/>
<circle cx="561" cy="447.1" r="2.3" fill="#000"/>
<circle cx="559.7" cy="469.5" r="2.4" fill="#000"/>
<circle cx="541.3" cy="487.9" r="2.2" fill="#000"/>
<circle cx="567.6" cy="495.8" r="2" fill="#000"/>
<circle cx="586" cy="444.5" r="1.6" fill="#000"/>
<circle cx="589" cy="454" r="1.6" fill="#000"/>
<circle cx="586" cy="466" r="1.8" fill="#000"/>
<circle cx="583" cy="428" r="1.8" fill="#000"/>
<circle cx="485.6" cy="518.3" r="2.2" fill="#000"/>
<circle cx="509.1" cy="516.1" r="2" fill="#000"/>
<circle cx="527" cy="511.6" r="2" fill="#000"/>
<circle cx="547.1" cy="504.9" r="2" fill="#000"/>
<circle cx="532.6" cy="469.6" r="2" fill="#000"/>
<circle cx="466.5" cy="483.8" r="2" fill="#000"/>
<circle cx="470.9" cy="504.4" r="1.8" fill="#000"/>
<circle cx="523.6" cy="445.6" r="1.5" fill="#000"/>
<path d="M586.5,434.6 L610,428.1" fill="none" stroke="#000" stroke-width="0.8" stroke-dasharray="14.9 1.45 1 1.45"/>
<path d="M711.7,347.5 C716.1,344.5 717.5,342.0 726.2,337.4 C734.9,332.8 732.0,334.5 740.7,332.3 C749.4,330.1 747.7,330.5 755.1,330.1 C762.5,329.7 762.2,330.7 765.3,330.9" fill="none" stroke="#000" stroke-width="1.1" />
<path d="M755.1,414.1 C757.7,413.0 758.1,412.4 763.8,410.5 C769.5,408.6 770.9,408.5 774.0,407.6" fill="none" stroke="#000" stroke-width="1.1" />
<path d="M704.55,352.61 L705.89,351.84 L707.01,351.37 L708.12,351.07 L709.24,350.93 L710.39,350.94 L711.57,351.09 L712.77,351.38 L714.01,351.80 L715.28,352.36 L716.59,353.05 L717.92,353.87 L719.28,354.82 L720.66,355.90 L722.07,357.10 L723.51,358.43 L724.96,359.89 L726.44,361.47 L727.93,363.18 L729.45,365.02 L731.00,367.01 L732.58,369.14 L734.22,371.47 L735.97,374.07 L738.15,377.44 L740.29,380.84 L741.90,383.53 L743.32,386.00 L744.58,388.33 L745.73,390.57 L746.75,392.73 L747.67,394.81 L748.48,396.81 L749.19,398.74 L749.79,400.60 L750.28,402.39 L750.68,404.10 L750.96,405.74 L751.14,407.29 L751.22,408.76 L751.19,410.15 L751.05,411.46 L750.80,412.67 L750.44,413.80 L749.96,414.84 L749.36,415.80 L748.62,416.68 L747.72,417.50 L746.45,418.39" fill="none" stroke="#000" stroke-width="1.1"/>
<path d="M713.28,348.97 L714.46,349.17 L715.68,349.50 L716.93,349.97 L718.22,350.57 L719.53,351.31 L720.87,352.17 L722.24,353.17 L723.63,354.29 L725.05,355.53 L726.49,356.91 L727.95,358.40 L729.43,360.03 L730.94,361.78 L732.46,363.67 L734.02,365.70 L735.62,367.90 L737.29,370.30 L739.10,373.03 L741.51,376.80 L743.35,379.77 L744.89,382.37 L746.25,384.79 L747.48,387.09 L748.58,389.30 L749.57,391.43 L750.45,393.48 L751.23,395.46 L751.90,397.37 L752.46,399.21 L752.93,400.97 L753.28,402.66 L753.53,404.26 L753.68,405.79 L753.72,407.24 L753.65,408.60 L753.48,409.87 L753.19,411.06 L752.79,412.16 L752.27,413.17 L751.63,414.10 L750.84,414.96 L749.87,415.77 L748.43,416.72 L747.23,417.34 L746.12,417.75 L745.01,417.99 L743.88,418.08 L742.72,418.03" fill="none" stroke="#000" stroke-width="1.0"/>
<path d="M722.47,350.08 L723.67,350.88 L724.89,351.78 L726.13,352.79 L727.39,353.89 L728.67,355.09 L729.96,356.39 L731.27,357.79 L732.60,359.29 L733.94,360.90 L735.31,362.61 L736.70,364.44 L738.12,366.40 L739.60,368.52 L741.18,370.88 L743.15,373.94 L745.09,377.02 L746.56,379.45 L747.86,381.69 L749.04,383.81 L750.11,385.84 L751.08,387.80 L751.97,389.70 L752.77,391.53 L753.48,393.31 L754.11,395.03 L754.66,396.70 L755.13,398.30 L755.51,399.85 L755.82,401.34 L756.03,402.76 L756.17,404.13 L756.22,405.42 L756.19,406.65 L756.07,407.82 L755.86,408.91 L755.57,409.93 L755.19,410.89 L754.71,411.78 L754.13,412.60 L753.44,413.37 L752.61,414.09 L751.45,414.89 L750.24,415.60 L749.23,416.05 L748.25,416.35 L747.26,416.53 L746.25,416.58 L745.22,416.53" fill="none" stroke="#000" stroke-width="1.0"/>
<path d="M742.95,421.89 L740.98,422.96 L739.27,423.50 L737.54,423.68 L735.75,423.53 L733.89,423.07 L731.96,422.31 L729.96,421.24 L727.90,419.88 L725.79,418.23 L723.63,416.30 L721.42,414.08 L719.17,411.57 L716.87,408.76 L714.51,405.62 L712.00,402.04 L708.93,397.33 L705.96,392.55 L703.77,388.77 L701.92,385.29 L700.35,382.02 L699.03,378.92 L697.95,375.99 L697.11,373.21 L696.51,370.60 L696.14,368.16 L696.02,365.90 L696.14,363.83 L696.51,361.95 L697.14,360.26 L698.03,358.77 L699.24,357.44 L701.05,356.11 L703.02,355.04 L704.73,354.50 L706.46,354.32 L708.25,354.47 L710.11,354.93 L712.04,355.69 L714.04,356.76 L716.10,358.12 L718.21,359.77 L720.37,361.70 L722.58,363.92 L724.83,366.43 L727.13,369.24 L729.49,372.38 L732.00,375.96 L735.07,380.67 L738.04,385.45 L740.23,389.23 L742.08,392.71 L743.65,395.98 L744.97,399.08 L746.05,402.01 L746.89,404.79 L747.49,407.40 L747.86,409.84 L747.98,412.10 L747.86,414.17 L747.49,416.05 L746.86,417.74 L745.97,419.23 L744.76,420.56Z" fill="#fff" stroke="#000" stroke-width="1.2" />
<path d="M741.34,419.36 L739.74,420.21 L738.33,420.60 L736.89,420.66 L735.37,420.44 L733.79,419.93 L732.13,419.15 L730.39,418.10 L728.59,416.78 L726.73,415.20 L724.81,413.36 L722.84,411.27 L720.82,408.92 L718.74,406.31 L716.58,403.39 L714.29,400.07 L711.46,395.72 L708.71,391.31 L706.67,387.83 L704.94,384.64 L703.44,381.65 L702.17,378.82 L701.11,376.15 L700.26,373.64 L699.61,371.29 L699.18,369.10 L698.95,367.08 L698.95,365.25 L699.16,363.59 L699.59,362.13 L700.27,360.85 L701.21,359.73 L702.66,358.64 L704.26,357.79 L705.67,357.40 L707.11,357.34 L708.63,357.56 L710.21,358.07 L711.87,358.85 L713.61,359.90 L715.41,361.22 L717.27,362.80 L719.19,364.64 L721.16,366.73 L723.18,369.08 L725.26,371.69 L727.42,374.61 L729.71,377.93 L732.54,382.28 L735.29,386.69 L737.33,390.17 L739.06,393.36 L740.56,396.35 L741.83,399.18 L742.89,401.85 L743.74,404.36 L744.39,406.71 L744.82,408.90 L745.05,410.92 L745.05,412.75 L744.84,414.41 L744.41,415.87 L743.73,417.15 L742.79,418.27Z" fill="none" stroke="#000" stroke-width="1.0" />
<path d="M707.4,359.1 C710.0,366.0 706.9,364.4 716.0,382.2 C725.1,400.0 731.3,407.5 737.8,418.4" fill="none" stroke="#000" stroke-width="0.9" />
<path d="M802.63,406.66 L800.70,407.99 L798.44,409.19 L795.50,410.39 L791.87,411.58 L789.29,412.16 L786.92,412.42 L784.66,412.39 L782.48,412.10 L780.36,411.54 L778.29,410.73 L776.26,409.68 L774.29,408.37 L772.37,406.83 L770.50,405.04 L768.68,403.01 L766.93,400.74 L765.22,398.21 L763.58,395.43 L761.97,392.35 L760.40,388.92 L758.79,384.98 L756.69,379.25 L755.01,374.25 L753.84,370.27 L752.95,366.66 L752.30,363.30 L751.87,360.13 L751.64,357.12 L751.61,354.28 L751.78,351.59 L752.14,349.05 L752.69,346.66 L753.44,344.43 L754.38,342.37 L755.51,340.47 L756.85,338.73 L758.40,337.16 L760.18,335.74 L762.23,334.47 L764.70,333.31 L768.43,331.94 L771.29,331.12 L773.76,330.69 L776.07,330.56 L778.29,330.71 L780.45,331.11 L782.55,331.78 L784.60,332.69" fill="none" stroke="#000" stroke-width="1.1"/>
<path d="M804.50,406.76 L802.62,408.07 L800.40,409.25 L797.52,410.42 L793.96,411.59 L791.43,412.16 L789.11,412.40 L786.89,412.37 L784.75,412.08 L782.67,411.52 L780.63,410.72 L778.64,409.67 L776.70,408.38 L774.81,406.85 L772.98,405.08 L771.19,403.07 L769.46,400.83 L767.78,398.33 L766.16,395.58 L764.58,392.54 L763.02,389.15 L761.44,385.26 L759.37,379.59 L757.70,374.65 L756.55,370.72 L755.67,367.16 L755.02,363.84 L754.59,360.71 L754.36,357.74 L754.32,354.93 L754.48,352.27 L754.82,349.77 L755.36,347.41 L756.09,345.22 L757.01,343.18 L758.12,341.31 L759.43,339.59 L760.94,338.04 L762.68,336.65 L764.70,335.41 L767.11,334.26 L770.77,332.92 L773.58,332.12 L776.00,331.70 L778.27,331.58 L780.45,331.72 L782.56,332.13 L784.63,332.79 L786.64,333.70" fill="none" stroke="#000" stroke-width="0.9"/>
<path d="M804.05,408.20 L802.02,409.28 L799.45,410.34 L796.07,411.48 L793.69,412.06 L791.52,412.35 L789.47,412.40 L787.48,412.21 L785.54,411.80 L783.65,411.17 L781.81,410.33 L780.00,409.28 L778.23,408.02 L776.50,406.55 L774.82,404.88 L773.18,403.00 L771.59,400.92 L770.05,398.62 L768.55,396.10 L767.09,393.34 L765.65,390.29 L764.21,386.86 L762.63,382.70 L760.65,377.04 L759.41,373.13 L758.47,369.68 L757.74,366.49 L757.20,363.48 L756.84,360.63 L756.65,357.92 L756.64,355.35 L756.78,352.90 L757.09,350.59 L757.57,348.41 L758.21,346.37 L759.01,344.46 L759.97,342.69 L761.11,341.06 L762.41,339.58 L763.91,338.23 L765.61,337.02 L767.58,335.92 L769.99,334.87 L773.44,333.66 L775.89,333.02 L778.08,332.68 L780.16,332.59 L782.16,332.74 L784.10,333.11" fill="none" stroke="#000" stroke-width="0.8"/>
<path d="M800.19,410.23 L796.68,411.31 L793.99,411.78 L791.49,411.86 L789.10,411.59 L786.79,410.97 L784.53,410.03 L782.34,408.75 L780.20,407.16 L778.13,405.26 L776.13,403.03 L774.19,400.50 L772.32,397.63 L770.52,394.42 L768.76,390.80 L766.99,386.62 L764.85,380.84 L762.88,375.01 L761.62,370.65 L760.71,366.73 L760.09,363.10 L759.74,359.69 L759.65,356.50 L759.81,353.51 L760.22,350.73 L760.88,348.15 L761.78,345.78 L762.94,343.62 L764.35,341.69 L766.04,339.97 L768.03,338.46 L770.41,337.13 L773.81,335.77 L777.32,334.69 L780.01,334.22 L782.51,334.14 L784.90,334.41 L787.21,335.03 L789.47,335.97 L791.66,337.25 L793.80,338.84 L795.87,340.74 L797.87,342.97 L799.81,345.50 L801.68,348.37 L803.48,351.58 L805.24,355.20 L807.01,359.38 L809.15,365.16 L811.12,370.99 L812.38,375.35 L813.29,379.27 L813.91,382.90 L814.26,386.31 L814.35,389.50 L814.19,392.49 L813.78,395.27 L813.12,397.85 L812.22,400.22 L811.06,402.38 L809.65,404.31 L807.96,406.03 L805.97,407.54 L803.59,408.87Z" fill="#fff" stroke="#000" stroke-width="1.1" />
<path d="M799.85,407.88 L796.72,408.84 L794.31,409.24 L792.06,409.28 L789.91,408.99 L787.82,408.38 L785.79,407.47 L783.80,406.26 L781.86,404.74 L779.97,402.94 L778.14,400.84 L776.36,398.45 L774.65,395.75 L772.98,392.73 L771.35,389.34 L769.71,385.42 L767.70,380.01 L765.85,374.54 L764.67,370.47 L763.80,366.80 L763.19,363.41 L762.83,360.23 L762.70,357.25 L762.81,354.47 L763.14,351.88 L763.69,349.49 L764.47,347.29 L765.48,345.30 L766.73,343.51 L768.22,341.93 L769.98,340.56 L772.11,339.35 L775.15,338.12 L778.28,337.16 L780.69,336.76 L782.94,336.72 L785.09,337.01 L787.18,337.62 L789.21,338.53 L791.20,339.74 L793.14,341.26 L795.03,343.06 L796.86,345.16 L798.64,347.55 L800.35,350.25 L802.02,353.27 L803.65,356.66 L805.29,360.58 L807.30,365.99 L809.15,371.46 L810.33,375.53 L811.20,379.20 L811.81,382.59 L812.17,385.77 L812.30,388.75 L812.19,391.53 L811.86,394.12 L811.31,396.51 L810.53,398.71 L809.52,400.70 L808.27,402.49 L806.78,404.07 L805.02,405.44 L802.89,406.65Z" fill="none" stroke="#000" stroke-width="0.9" />
<path d="M806,359.1 L914,370.1" fill="none" stroke="#000" stroke-width="0.8" stroke-dasharray="14.9 1.45 1 1.45"/>
<path d="M854.36,405.40 L850.24,405.54 L847.48,405.29 L845.09,404.73 L842.93,403.86 L840.96,402.68 L839.15,401.21 L837.49,399.44 L835.96,397.38 L834.58,395.02 L833.34,392.36 L832.23,389.39 L831.27,386.09 L830.44,382.41 L829.74,378.27 L829.15,373.42 L828.56,366.10 L828.13,358.78 L828.03,353.89 L828.15,349.69 L828.46,345.94 L828.96,342.53 L829.64,339.44 L830.50,336.63 L831.54,334.10 L832.76,331.85 L834.16,329.86 L835.75,328.15 L837.54,326.72 L839.55,325.55 L841.84,324.66 L844.54,324.03 L848.64,323.60 L852.76,323.46 L855.52,323.71 L857.91,324.27 L860.07,325.14 L862.04,326.32 L863.85,327.79 L865.51,329.56 L867.04,331.62 L868.42,333.98 L869.66,336.64 L870.77,339.61 L871.73,342.91 L872.56,346.59 L873.26,350.73 L873.85,355.58 L874.44,362.90 L874.87,370.22 L874.97,375.11 L874.85,379.31 L874.54,383.06 L874.04,386.47 L873.36,389.56 L872.50,392.37 L871.46,394.90 L870.24,397.15 L868.84,399.14 L867.25,400.85 L865.46,402.28 L863.45,403.45 L861.16,404.34 L858.46,404.97Z" fill="none" stroke="#000" stroke-width="1.1" />
<path d="M855.09,404.95 L851.96,404.97 L849.86,404.65 L848.04,404.03 L846.40,403.12 L844.90,401.92 L843.52,400.43 L842.25,398.66 L841.10,396.61 L840.05,394.27 L839.11,391.64 L838.28,388.72 L837.55,385.47 L836.92,381.87 L836.40,377.81 L835.96,373.06 L835.52,365.92 L835.21,358.76 L835.15,354.00 L835.25,349.91 L835.49,346.25 L835.88,342.95 L836.40,339.95 L837.06,337.24 L837.86,334.81 L838.80,332.64 L839.87,330.75 L841.08,329.13 L842.45,327.78 L843.98,326.70 L845.73,325.90 L847.79,325.36 L850.91,325.05 L854.04,325.03 L856.14,325.35 L857.96,325.97 L859.60,326.88 L861.10,328.08 L862.48,329.57 L863.75,331.34 L864.90,333.39 L865.95,335.73 L866.89,338.36 L867.72,341.28 L868.45,344.53 L869.08,348.13 L869.60,352.19 L870.04,356.94 L870.48,364.08 L870.79,371.24 L870.85,376.00 L870.75,380.09 L870.51,383.75 L870.12,387.05 L869.60,390.05 L868.94,392.76 L868.14,395.19 L867.20,397.36 L866.13,399.25 L864.92,400.87 L863.55,402.22 L862.02,403.30 L860.27,404.10 L858.21,404.64Z" fill="none" stroke="#000" stroke-width="1.0" />
<path d="M844,323 L844,314 L847.5,312.4 L851.5,314 L851.5,322Z" fill="#fff" stroke="#000" stroke-width="1.0" />
<circle cx="847.8" cy="317" r="1.4" fill="#000"/>
<path d="M837,327 L837,318 L840,315.5 L843.5,316.5 L843.5,326Z" fill="#fff" stroke="#000" stroke-width="1.0" />
<circle cx="840.3" cy="320" r="1.2" fill="#000"/>
<line x1="841" y1="322.5" x2="831" y2="327.8" stroke="#000" stroke-width="3.2" />
<line x1="841" y1="322.5" x2="831" y2="327.8" stroke="#fff" stroke-width="1.3" />
<path d="M697.3,100 C697.3,68 716,51 738.4,51" fill="none" stroke="#000" stroke-width="0.9" />
<path d="M738.4,51.0 C743.7,51.5 744.2,50.1 756.1,52.5 C768.0,54.9 764.9,54.0 778.1,59.1 C791.3,64.2 788.7,63.7 800.1,69.4 C811.5,75.1 811.4,75.6 816.2,78.2" fill="none" stroke="#000" stroke-width="0.9" />
<path d="M738.4,51.0 C743.7,52.5 746.4,52.8 756.1,56.1 C765.8,59.4 761.9,57.6 770.7,62.0 C779.5,66.4 776.6,65.3 785.4,70.8 C794.2,76.3 792.2,75.1 800.1,80.4 C808.0,85.7 808.3,86.0 811.8,88.4" fill="none" stroke="#000" stroke-width="0.85" />
<line x1="697" y1="98.7" x2="697" y2="205.5" stroke="#000" stroke-width="0.85" />
<path d="M744.3,215.5 L744.3,104.6 L782.5,128.1" fill="none" stroke="#000" stroke-width="0.85" />
<path d="M770.4,122.2 V146 C770.4,156 762,178 761.8,190 C761.6,200 766,212 775.3,221.6" fill="none" stroke="#000" stroke-width="0.85" />
<path d="M697,205 C697,262 735,305 800.5,305" fill="none" stroke="#000" stroke-width="0.9" />
<path d="M744.3,215 C744.3,265 775,298 800.5,305" fill="none" stroke="#000" stroke-width="0.85" />
<path d="M800.5,305 L871.7,289.3" fill="none" stroke="#000" stroke-width="0.9" />
<path d="M871.7,289.3 C895,292 910,305 918.7,322.6" fill="none" stroke="#000" stroke-width="0.9" />
<path d="M775.3,221.4 L833.3,209.8" fill="none" stroke="#000" stroke-width="0.9" />
<path d="M833.3,209.8 C880,208 925,240 950,274 C975,308 990,335 989.7,365.3 C989.5,378 986,388 980.3,393.7" fill="none" stroke="#000" stroke-width="0.9" />
<path d="M918.7,322.6 C916.3,324.0 914.4,323.1 910.8,327.4 C907.2,331.7 908.0,330.2 906.8,336.8 C905.6,343.4 905.1,340.0 906.8,349.5 C908.5,359.0 907.9,358.0 912.4,368.4 C916.9,378.8 916.1,376.1 921.8,384.2 C927.5,392.3 925.6,391.0 931.3,395.3 C937.0,399.6 935.6,397.0 940.8,398.4 C946.0,399.8 946.3,399.5 948.7,400.0" fill="none" stroke="#000" stroke-width="1.9" />
<path d="M920.3,327.4 C918.9,329.3 917.4,328.5 915.5,333.7 C913.6,338.9 913.5,336.7 914.0,344.7 C914.5,352.7 913.8,350.5 917.1,360.5 C920.4,370.5 919.8,368.4 925.0,377.9 C930.2,387.4 929.3,386.0 934.5,392.1 C939.7,398.2 940.0,396.5 942.4,398.4" fill="none" stroke="#000" stroke-width="1.8" />
<path d="M919.5,325.0 C917.5,326.6 915.8,325.9 913.0,330.5 C910.2,335.1 910.9,333.1 910.3,340.5 C909.7,347.9 908.7,345.2 911.0,355.0 C913.3,364.8 912.9,362.9 918.0,373.0 C923.1,383.1 922.3,381.6 928.0,388.5 C933.7,395.4 934.3,393.8 937.0,396.0" fill="none" stroke="#000" stroke-width="0.8" />
<path d="M948.7,400.0 C952.5,400.2 951.8,402.7 961.3,400.8 C970.8,398.9 974.6,395.8 980.3,393.7" fill="none" stroke="#000" stroke-width="1.0" />
<path d="M950.3,400.0 C951.7,401.4 951.2,402.1 955.0,404.7 C958.8,407.3 957.7,407.7 962.9,408.7 C968.1,409.7 967.2,412.4 972.4,407.9 C977.6,403.4 977.9,398.0 980.3,393.7" fill="none" stroke="#000" stroke-width="1.0" />
<path d="M962.9,408.7 L966.8,424.5 L977.1,422.1 L974,406.3" fill="none" stroke="#000" stroke-width="1.0" />
<path d="M795.7,139.8 C792.8,137.8 790.4,140.1 786.0,133.0 C781.6,125.9 780.7,127.5 781.0,116.3 C781.3,105.1 781.6,105.9 786.9,95.8 C792.2,85.7 791.1,87.9 798.6,82.6 C806.1,77.3 805.6,79.3 811.8,78.2 C818.0,77.1 815.2,77.4 819.2,78.9 C823.2,80.4 823.3,82.0 825.0,83.3" fill="none" stroke="#000" stroke-width="1.3" />
<path d="M792.0,137.0 C790.0,134.8 787.8,135.3 785.4,129.5 C783.0,123.7 782.7,127.0 784.0,117.8 C785.3,108.6 784.5,108.8 789.8,98.7 C795.1,88.6 795.0,89.5 801.6,84.0 C808.2,78.5 808.7,81.5 811.8,80.4" fill="none" stroke="#000" stroke-width="1.0" />
<path d="M787.0,131.0 C786.9,127.2 784.9,127.8 786.5,118.5 C788.1,109.2 787.5,109.8 792.5,100.0 C797.5,90.2 799.9,90.2 803.0,86.0" fill="none" stroke="#000" stroke-width="0.9" />
<path d="M822.64,84.38 L825.34,85.17 L827.37,86.04 L829.13,87.09 L830.68,88.32 L832.04,89.74 L833.21,91.35 L834.21,93.13 L835.02,95.09 L835.65,97.22 L836.10,99.51 L836.35,101.95 L836.42,104.56 L836.29,107.34 L835.95,110.31 L835.37,113.57 L834.42,117.72 L833.31,121.83 L832.29,124.97 L831.19,127.76 L830.01,130.27 L828.73,132.54 L827.35,134.58 L825.88,136.40 L824.33,137.98 L822.69,139.33 L820.97,140.43 L819.18,141.30 L817.32,141.91 L815.37,142.28 L813.32,142.37 L811.12,142.19 L808.36,141.62 L805.66,140.83 L803.63,139.96 L801.87,138.91 L800.32,137.68 L798.96,136.26 L797.79,134.65 L796.79,132.87 L795.98,130.91 L795.35,128.78 L794.90,126.49 L794.65,124.05 L794.58,121.44 L794.71,118.66 L795.05,115.69 L795.63,112.43 L796.58,108.28 L797.69,104.17 L798.71,101.03 L799.81,98.24 L800.99,95.73 L802.27,93.46 L803.65,91.42 L805.12,89.60 L806.67,88.02 L808.31,86.67 L810.03,85.57 L811.82,84.70 L813.68,84.09 L815.63,83.72 L817.68,83.63 L819.88,83.81Z" fill="#fff" stroke="#000" stroke-width="1.3" />
<path d="M822.03,86.80 L824.39,87.50 L826.15,88.28 L827.68,89.21 L829.02,90.32 L830.20,91.60 L831.21,93.06 L832.06,94.68 L832.75,96.45 L833.28,98.39 L833.65,100.47 L833.85,102.71 L833.88,105.08 L833.73,107.62 L833.40,110.34 L832.87,113.31 L832.00,117.11 L830.99,120.88 L830.06,123.76 L829.07,126.31 L828.01,128.62 L826.86,130.70 L825.64,132.58 L824.34,134.25 L822.96,135.71 L821.52,136.95 L820.01,137.98 L818.43,138.79 L816.79,139.37 L815.09,139.72 L813.30,139.83 L811.38,139.69 L808.97,139.20 L806.61,138.50 L804.85,137.72 L803.32,136.79 L801.98,135.68 L800.80,134.40 L799.79,132.94 L798.94,131.32 L798.25,129.55 L797.72,127.61 L797.35,125.53 L797.15,123.29 L797.12,120.92 L797.27,118.38 L797.60,115.66 L798.13,112.69 L799.00,108.89 L800.01,105.12 L800.94,102.24 L801.93,99.69 L802.99,97.38 L804.14,95.30 L805.36,93.42 L806.66,91.75 L808.04,90.29 L809.48,89.05 L810.99,88.02 L812.57,87.21 L814.21,86.63 L815.91,86.28 L817.70,86.17 L819.62,86.31Z" fill="none" stroke="#000" stroke-width="1.0" />
<path d="M830.9,119.3 L893.7,153.2 L915.8,111 L1019,174.5" fill="none" stroke="#000" stroke-width="0.8" stroke-dasharray="14.9 1.45 1 1.45"/>
<ellipse cx="756.8" cy="204.5" rx="3.3" ry="4.5" fill="#fff" stroke="#000" stroke-width="1"/>
<path d="M759,201.5 L768,201.5" fill="none" stroke="#000" stroke-width="1.0" />
<path d="M759,207.5 L768,207.5" fill="none" stroke="#000" stroke-width="1.0" />
<ellipse cx="770" cy="204.5" rx="3" ry="4.3" fill="#fff" stroke="#000" stroke-width="1"/>
<line x1="755" y1="201" x2="755" y2="208" stroke="#000" stroke-width="0.8" />
<path d="M773.7,204.5 L789.5,204.5" fill="none" stroke="#000" stroke-width="1.0" stroke-dasharray="14.9 1.45 1 1.45"/>
<line x1="807.4" y1="204.5" x2="817.9" y2="204.5" stroke="#000" stroke-width="1.0" />
<ellipse cx="792.5" cy="205" rx="3.3" ry="8.5" fill="none" stroke="#000" stroke-width="1.3"/>
<ellipse cx="795" cy="205" rx="3.3" ry="8.5" fill="none" stroke="#000" stroke-width="1.3"/>
<ellipse cx="797.5" cy="205" rx="3.3" ry="8.5" fill="none" stroke="#000" stroke-width="1.3"/>
<ellipse cx="802" cy="205" rx="4.5" ry="8.5" fill="#222" stroke="#000" stroke-width="1.2"/>
<ellipse cx="802" cy="205" rx="2" ry="4.5" fill="none" stroke="#888" stroke-width="1"/>
<path d="M868.18,91.19 L871.79,92.24 L874.11,93.26 L876.02,94.47 L877.63,95.89 L878.99,97.55 L880.12,99.43 L881.04,101.55 L881.75,103.91 L882.25,106.49 L882.53,109.32 L882.61,112.39 L882.47,115.74 L882.09,119.39 L881.47,123.44 L880.54,128.12 L878.88,135.08 L877.07,142.01 L875.70,146.57 L874.35,150.44 L872.97,153.84 L871.52,156.86 L870.01,159.54 L868.43,161.90 L866.78,163.95 L865.05,165.70 L863.24,167.14 L861.36,168.27 L859.38,169.10 L857.28,169.60 L855.03,169.77 L852.50,169.58 L848.82,168.81 L845.21,167.76 L842.89,166.74 L840.98,165.53 L839.37,164.11 L838.01,162.45 L836.88,160.57 L835.96,158.45 L835.25,156.09 L834.75,153.51 L834.47,150.68 L834.39,147.61 L834.53,144.26 L834.91,140.61 L835.53,136.56 L836.46,131.88 L838.12,124.92 L839.93,117.99 L841.30,113.43 L842.65,109.56 L844.03,106.16 L845.48,103.14 L846.99,100.46 L848.57,98.10 L850.22,96.05 L851.95,94.30 L853.76,92.86 L855.64,91.73 L857.62,90.90 L859.72,90.40 L861.97,90.23 L864.50,90.42Z" fill="none" stroke="#000" stroke-width="1.1" />
<path d="M875.83,95.16 L879.40,96.19 L881.69,97.19 L883.57,98.38 L885.16,99.77 L886.50,101.39 L887.62,103.23 L888.53,105.30 L889.24,107.60 L889.73,110.13 L890.02,112.88 L890.11,115.88 L889.97,119.15 L889.62,122.71 L889.01,126.66 L888.10,131.22 L886.49,138.01 L884.72,144.76 L883.39,149.21 L882.07,152.98 L880.71,156.30 L879.29,159.24 L877.81,161.85 L876.26,164.15 L874.64,166.15 L872.94,167.85 L871.17,169.25 L869.31,170.35 L867.36,171.14 L865.30,171.63 L863.09,171.79 L860.59,171.60 L856.97,170.84 L853.40,169.81 L851.11,168.81 L849.23,167.62 L847.64,166.23 L846.30,164.61 L845.18,162.77 L844.27,160.70 L843.56,158.40 L843.07,155.87 L842.78,153.12 L842.69,150.12 L842.83,146.85 L843.18,143.29 L843.79,139.34 L844.70,134.78 L846.31,127.99 L848.08,121.24 L849.41,116.79 L850.73,113.02 L852.09,109.70 L853.51,106.76 L854.99,104.15 L856.54,101.85 L858.16,99.85 L859.86,98.15 L861.63,96.75 L863.49,95.65 L865.44,94.86 L867.50,94.37 L869.71,94.21 L872.21,94.40Z" fill="none" stroke="#000" stroke-width="1.0" />
<path d="M876.1,86 L884.4,84.7 L885.8,90.2 L880.2,94.3 L875,93Z" fill="#fff" stroke="#000" stroke-width="1.0" />
<circle cx="880" cy="89" r="1.6" fill="#000"/>
<path d="M880.2,91.6 L888.5,88.8 L891.3,93 L885.8,98.5 L881,97Z" fill="#fff" stroke="#000" stroke-width="1.0" />
<line x1="884.4" y1="94.3" x2="894.1" y2="102.6" stroke="#000" stroke-width="3.2" />
<line x1="884.4" y1="94.3" x2="894.1" y2="102.6" stroke="#fff" stroke-width="1.3" />
<path d="M996.8,118.3 C993.0,120.2 991.2,118.3 984.0,124.7 C976.8,131.1 977.6,130.1 972.9,139.5 C968.2,148.9 968.9,147.2 968.3,156.0 C967.7,164.8 968.5,163.3 971.0,168.9 C973.5,174.5 974.9,172.8 976.6,174.5" fill="none" stroke="#000" stroke-width="1.2" />
<path d="M993.1,121.0 C989.3,124.3 986.9,123.2 980.3,132.1 C973.7,140.9 973.8,140.6 971.0,150.5 C968.2,160.4 969.9,158.6 971.0,165.2 C972.1,171.8 973.6,170.4 974.7,172.6" fill="none" stroke="#000" stroke-width="1.3" />
<path d="M996.8,118.3 C1000.1,118.3 1002.9,116.6 1007.9,118.3 C1012.9,120.0 1011.8,122.1 1013.4,123.8" fill="none" stroke="#000" stroke-width="1.2" />
<line x1="991.3" y1="122.9" x2="996.8" y2="127.5" stroke="#000" stroke-width="0.9" />
<line x1="976.6" y1="174.5" x2="996.8" y2="187.3" stroke="#000" stroke-width="0.9" />
<path d="M1013.4,123.8 C1010.1,124.6 1009.6,123.0 1002.4,126.6 C995.2,130.2 996.1,128.1 989.5,135.8 C982.9,143.5 983.6,143.0 980.3,152.4 C977.0,161.8 977.9,159.4 978.4,167.1 C978.9,174.8 978.8,173.1 982.1,178.1 C985.4,183.1 985.1,180.9 989.5,183.7 C993.9,186.5 994.6,186.2 996.8,187.3" fill="none" stroke="#000" stroke-width="1.2" />
<path d="M1015.2,125.5 C1011.9,126.4 1011.2,125.0 1004.2,128.6 C997.2,132.2 998.4,130.2 992.0,137.5 C985.6,144.8 986.2,144.2 983.0,153.0 C979.8,161.8 980.8,159.8 981.2,167.0 C981.7,174.2 983.5,174.0 984.5,177.0" fill="none" stroke="#000" stroke-width="0.9" />
<path d="M1013.4,123.8 C1015.6,124.6 1013.1,121.9 1020.8,126.6 C1028.5,131.3 1031.5,133.4 1039.2,139.5 C1046.9,145.6 1043.3,142.9 1046.6,146.8 C1049.9,150.7 1049.7,149.1 1050.2,152.4 C1050.7,155.7 1050.4,154.5 1048.4,157.9 C1046.4,161.3 1047.7,156.9 1043.5,163.7 C1039.3,170.4 1038.9,170.0 1034.4,180.4 C1029.9,190.8 1032.0,186.7 1028.4,198.5 C1024.8,210.3 1025.9,209.3 1022.3,219.7 C1018.7,230.1 1019.9,227.9 1016.3,233.3 C1012.7,238.7 1012.0,236.5 1010.2,237.8" fill="none" stroke="#000" stroke-width="1.1" />
<path d="M1048.4,156.0 C1046.2,159.9 1044.3,161.7 1041.0,168.9 C1037.7,176.1 1039.5,174.5 1037.3,180.0 C1035.1,185.5 1036.5,180.7 1033.7,187.3 C1030.9,193.9 1032.0,192.0 1028.1,202.0 C1024.2,212.0 1024.7,211.7 1020.8,220.5 C1016.9,229.3 1016.9,228.2 1015.2,231.5" fill="none" stroke="#000" stroke-width="0.9" />
<path d="M1010.2,142.6 L1017.8,141.8 L1035.9,160 L1036.7,163.7 L1008,247.6 L1004.2,246.9 L986,227.2 L986.8,224.2 L1008.7,150.1Z" fill="none" stroke="#000" stroke-width="1.0" />
<path d="M1017,145 L1033.2,161.5 L1033.5,164.5 L1006.5,243.5 L1004.5,243" fill="none" stroke="#000" stroke-width="0.75" />
<line x1="1030.5" y1="166" x2="1010.5" y2="236" stroke="#000" stroke-width="0.7" />
<path d="M1008.7,144.5 L1006,145 L1005,150.5 L1008.5,152" fill="none" stroke="#000" stroke-width="1.0" />
<path d="M987,214 L984,215 L983,221.5 L986.5,223.5" fill="none" stroke="#000" stroke-width="1.0" />
<path d="M1016.3,149.4 C1018.0,149.9 1020.6,149.0 1023.8,151.6 C1027.0,154.2 1028.5,157.2 1029.9,160.7 C1031.3,164.2 1032.0,157.8 1029.9,166.7 C1027.8,175.6 1024.9,184.5 1021.0,199.0 C1017.1,213.5 1016.5,219.6 1013.3,228.7 C1010.1,237.8 1010.4,235.3 1007.2,237.8 C1004.0,240.3 1003.1,240.0 999.7,239.3 C996.3,238.6 995.2,237.6 992.8,234.8 C990.4,232.0 990.0,230.7 989.5,227.2 C989.0,223.7 987.8,229.3 990.5,219.7 C993.2,210.1 996.1,201.4 1001.0,186.0 C1005.9,170.6 1007.9,162.1 1011.5,153.6 C1015.1,145.1 1015.2,150.4 1016.3,149.4" fill="none" stroke="#000" stroke-width="1.0" />
<circle cx="1034.6" cy="163.4" r="1.2" fill="none" stroke="#000" stroke-width="0.9"/>
<circle cx="1005.1" cy="242.6" r="1.2" fill="none" stroke="#000" stroke-width="0.9"/>
<path d="M966,400 L992.8,508.6" fill="none" stroke="#000" stroke-width="0.8" stroke-dasharray="14.9 1.45 1 1.45"/>
<ellipse cx="978.7" cy="449.2" rx="9.2" ry="4.6" transform="rotate(-8 978.7 449.2)" fill="none" stroke="#000" stroke-width="1.3"/>
<ellipse cx="978.7" cy="449.4" rx="7" ry="3.1" transform="rotate(-8 978.7 449.4)" fill="none" stroke="#000" stroke-width="0.9"/>
<ellipse cx="992" cy="445.6" rx="4.3" ry="2.6" transform="rotate(-10 992 445.6)" fill="none" stroke="#000" stroke-width="1.2"/>
<path d="M985,450 L986,455 L990,456 L989.5,451" fill="none" stroke="#000" stroke-width="1.3" />
<ellipse cx="989.3" cy="485.6" rx="7.5" ry="3.7" transform="rotate(-15 989.3 485.6)" fill="none" stroke="#000" stroke-width="1.2"/>
<path d="M981.8,487.2 L989.6,506.6 L991.9,515 L1003.1,508.3 L1001.9,501 L996.9,483.1" fill="none" stroke="#000" stroke-width="1.1" />
<line x1="988.5" y1="505.5" x2="1001.9" y2="502.1" stroke="#000" stroke-width="0.9" />
</svg></body></html>
